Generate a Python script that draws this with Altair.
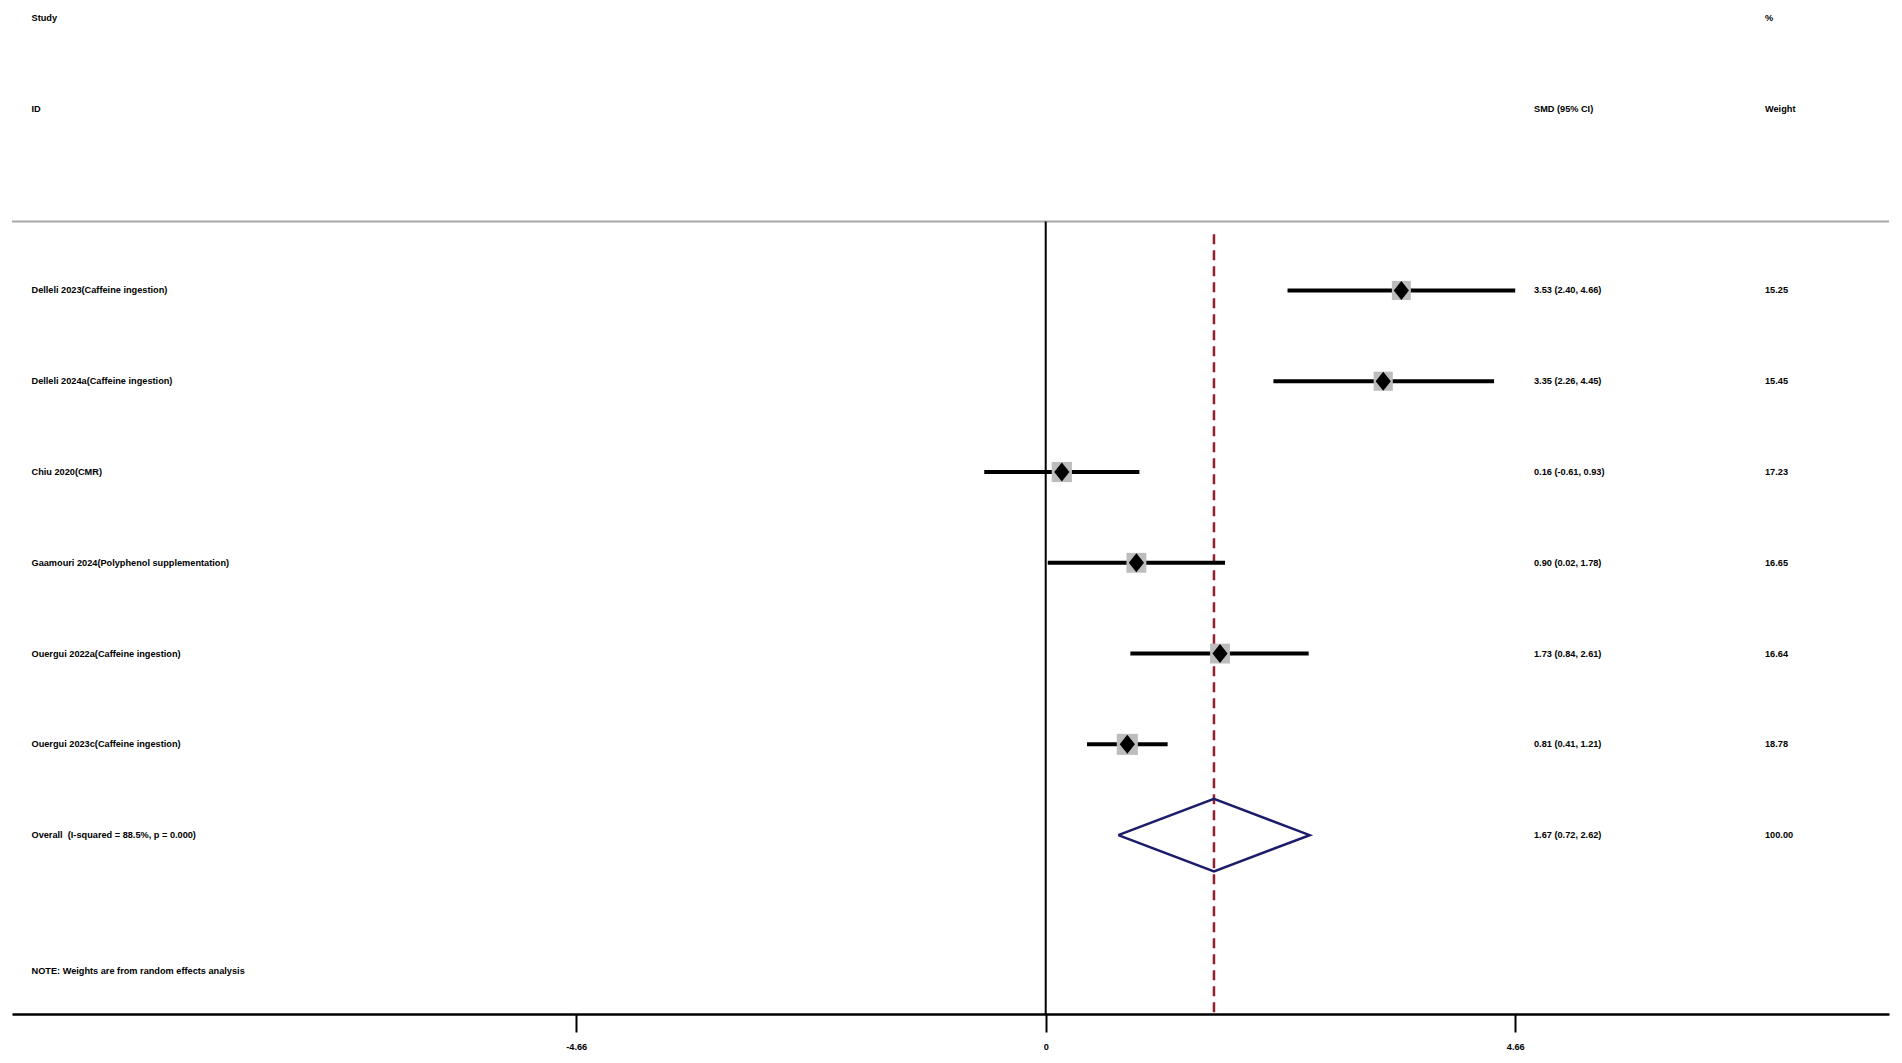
import altair as alt
import pandas as pd

# ---------------- data ----------------
studies = [
    "Delleli 2023(Caffeine ingestion)",
    "Delleli 2024a(Caffeine ingestion)",
    "Chiu 2020(CMR)",
    "Gaamouri 2024(Polyphenol supplementation)",
    "Ouergui 2022a(Caffeine ingestion)",
    "Ouergui 2023c(Caffeine ingestion)",
]
smd = [3.53, 3.35, 0.16, 0.90, 1.73, 0.81]
lower = [2.40, 2.26, -0.61, 0.02, 0.84, 0.41]
upper = [4.66, 4.45, 0.93, 1.78, 2.61, 1.21]
weights = [15.25, 15.45, 17.23, 16.65, 16.64, 18.78]

overall_label = "Overall \u00a0(I-squared = 88.5%, p = 0.000)"
overall_est = 1.67
overall_lower = 0.72
overall_upper = 2.62
overall_weight = 100.00

note_text = "NOTE: Weights are from random effects analysis"
tick_values = [-4.66, 0, 4.66]
tick_labels = ["-4.66", "0", "4.66"]

# ---------------- layout / style ----------------
W, H = 1877, 1005
X_DOMAIN = [-10.26, 8.37]
Y_DOMAIN = [-2.1, 8.97]
FONT = "Liberation Sans"
FS = 9.2
FW = "bold"
COL_STUDY = 19.5
COL_SMD = 1522
COL_W = 1753
HEADER_LINE_ROW = 0.24
DASH_START_ROW = 0.38
DIAMOND_HALF = 0.40
SQUARE_K = 23.7

rows = list(range(1, len(studies) + 1))
overall_row = len(studies) + 1

df = pd.DataFrame({
    "study": studies, "smd": smd, "lower": lower, "upper": upper,
    "weight": weights, "row": rows,
})
df["ci_text"] = [f"{s:.2f} ({l:.2f}, {u:.2f})" for s, l, u in zip(smd, lower, upper)]
df["w_text"] = [f"{w:.2f}" for w in weights]

right_df = pd.DataFrame({
    "row": rows + [overall_row],
    "label": studies + [overall_label],
    "ci_text": list(df["ci_text"]) + [f"{overall_est:.2f} ({overall_lower:.2f}, {overall_upper:.2f})"],
    "w_text": list(df["w_text"]) + [f"{overall_weight:.2f}"],
})

diamond_df = pd.DataFrame({
    "x": [overall_lower, overall_est, overall_upper, overall_est, overall_lower],
    "y": [overall_row, overall_row - DIAMOND_HALF, overall_row, overall_row + DIAMOND_HALF, overall_row],
    "o": [0, 1, 2, 3, 4],
})

header_df = pd.DataFrame({
    "row": [-2, -1, -1, -2, -1, 8.5],
    "text": ["Study", "ID", "SMD (95% CI)", "%", "Weight", note_text],
    "col": ["s", "s", "c", "w", "w", "s"],
})

# ---------------- scales / axes ----------------
label_expr = " : ".join(
    [f"datum.value == {v} ? '{t}'" for v, t in zip(tick_values, tick_labels)]
) + " : ''"
x_axis = alt.Axis(
    values=tick_values, labelExpr=label_expr, title=None, grid=False,
    domainColor="black", domainWidth=2.5, tickColor="black", tickWidth=2,
    tickSize=18, labelFontSize=FS, labelFont=FONT, labelFontWeight=FW,
    labelColor="black", labelPadding=10,
)
xs = alt.Scale(domain=X_DOMAIN, nice=False, zero=False)
ys = alt.Scale(domain=Y_DOMAIN, reverse=True, nice=False, zero=False)


def X(f):
    return alt.X(f, type="quantitative", scale=xs, axis=x_axis)


def Y(f):
    return alt.Y(f, type="quantitative", scale=ys, axis=None)


base = alt.Chart(df)

header_line = alt.Chart(pd.DataFrame({"r": [HEADER_LINE_ROW]})).mark_rule(
    color="#A8A8A8", strokeWidth=2
).encode(y=Y("r"), x=alt.value(0), x2=alt.value(W))

zero_line = alt.Chart(pd.DataFrame({"x": [0], "y1": [HEADER_LINE_ROW], "y2": [Y_DOMAIN[1]]})).mark_rule(
    color="black", strokeWidth=2
).encode(x=X("x"), y=Y("y1"), y2="y2")

dash_line = alt.Chart(pd.DataFrame({"x": [overall_est], "y1": [DASH_START_ROW], "y2": [Y_DOMAIN[1]]})).mark_rule(
    color="#9B1B30", strokeWidth=2.5, strokeDash=[10, 6]
).encode(x=X("x"), y=Y("y1"), y2="y2")

ci = base.mark_rule(color="black", strokeWidth=4).encode(
    x=X("lower"), x2="upper", y=Y("row")
)

boxes = base.mark_square(color="#BDBDBD", opacity=1).encode(
    x=X("smd"), y=Y("row"),
    size=alt.Size("weight", scale=alt.Scale(domain=[0, 20], range=[0, 20 * SQUARE_K]), legend=None),
)

points = base.mark_point(
    shape="M-0.8,0L0,-1L0.8,0L0,1Z", filled=True, color="black", opacity=1, size=361
).encode(x=X("smd"), y=Y("row"))

diamond = alt.Chart(diamond_df).mark_line(color="#1C1C6B", strokeWidth=2.5).encode(
    x=X("x"), y=Y("y"), order="o"
)

txt = dict(font=FONT, fontSize=FS, fontWeight=FW, color="black", align="left", baseline="middle")
labels = alt.Chart(right_df).mark_text(**txt).encode(
    x=alt.value(COL_STUDY), y=Y("row"), text="label"
)
ci_txt = alt.Chart(right_df).mark_text(**txt).encode(
    x=alt.value(COL_SMD), y=Y("row"), text="ci_text"
)
w_txt = alt.Chart(right_df).mark_text(**txt).encode(
    x=alt.value(COL_W), y=Y("row"), text="w_text"
)
hdr_s = alt.Chart(header_df).transform_filter("datum.col == 's'").mark_text(**txt).encode(
    x=alt.value(COL_STUDY), y=Y("row"), text="text"
)
hdr_c = alt.Chart(header_df).transform_filter("datum.col == 'c'").mark_text(**txt).encode(
    x=alt.value(COL_SMD), y=Y("row"), text="text"
)
hdr_w = alt.Chart(header_df).transform_filter("datum.col == 'w'").mark_text(**txt).encode(
    x=alt.value(COL_W), y=Y("row"), text="text"
)

chart = alt.layer(
    header_line, zero_line, dash_line, ci, boxes, points, diamond,
    labels, ci_txt, w_txt, hdr_s, hdr_c, hdr_w,
).properties(
    width=W, height=H,
    padding={"left": 4, "top": 1, "right": 4, "bottom": 40},
    autosize=alt.AutoSizeParams(type="none"),
    background="white",
).configure_view(stroke=None)

chart.save("out.html", embed_options={"renderer": "svg", "actions": False})
